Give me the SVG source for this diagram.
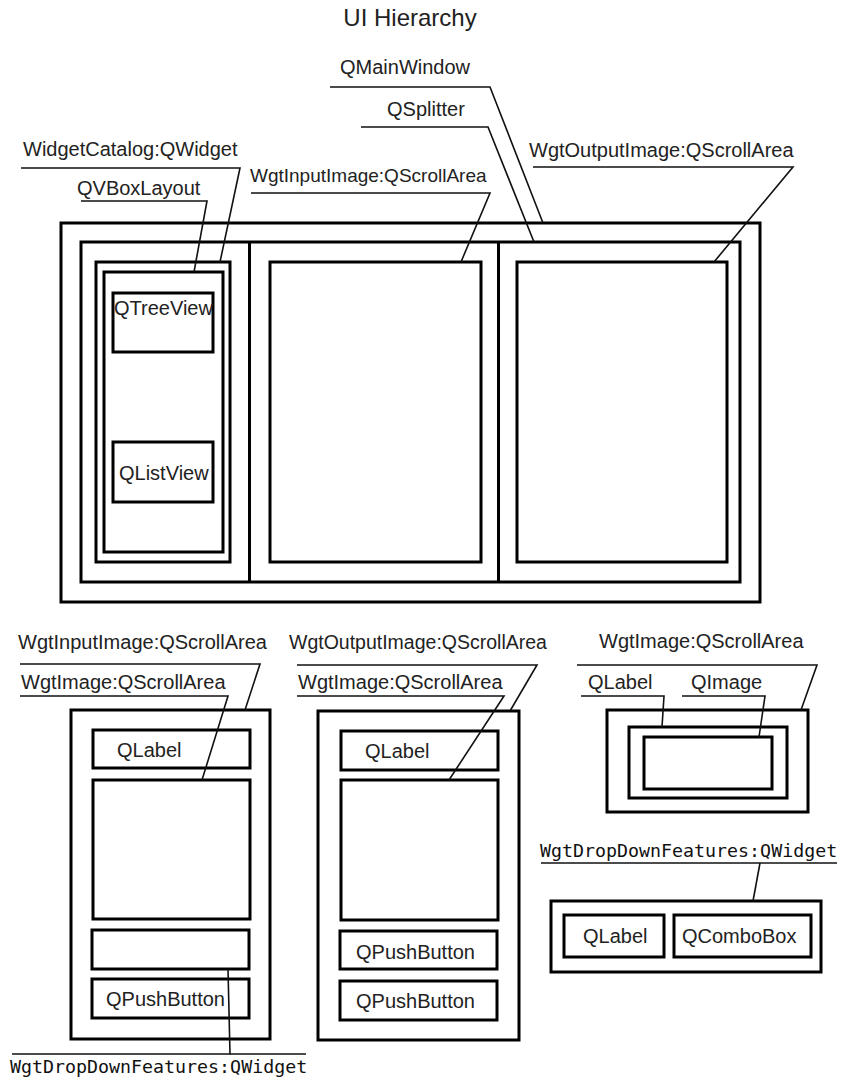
<svg xmlns="http://www.w3.org/2000/svg" width="845" height="1084" viewBox="0 0 845 1084">
<style>
  .box { fill: none; stroke: #000; stroke-width: 3; }
  .t { font-family: "Liberation Sans", Arial, sans-serif; font-size: 20px; fill: #222; }
  .title { font-family: "Liberation Sans", Arial, sans-serif; font-size: 24px; fill: #222; }
  .mono { font-family: "DejaVu Sans Mono", "Liberation Mono", monospace; font-size: 18.3px; fill: #111; }
  .ln { fill: none; stroke: #111; stroke-width: 1.6; stroke-linejoin: miter; }
</style>
<rect width="845" height="1084" fill="#fff"/>
<text class="title" x="410" y="26" text-anchor="middle">UI Hierarchy</text>

<!-- Top: main window -->
<g id="QMainWindow">
  <rect class="box" x="61" y="223" width="699" height="379"/>
  <text class="t" x="340" y="74">QMainWindow</text>
</g>
<g id="QSplitter">
  <rect class="box" x="81" y="242" width="659" height="340"/>
  <line class="box" x1="249.5" y1="242" x2="249.5" y2="582"/>
  <line class="box" x1="498.5" y1="242" x2="498.5" y2="582"/>
  <text class="t" x="387" y="116">QSplitter</text>
</g>
<g id="WidgetCatalog">
  <rect class="box" x="96" y="262" width="134" height="300"/>
  <text class="t" x="23" y="156">WidgetCatalog:QWidget</text>
</g>
<g id="QVBoxLayout">
  <rect class="box" x="104" y="272" width="119" height="280"/>
  <text class="t" x="77" y="195">QVBoxLayout</text>
</g>
<g id="QTreeView">
  <rect class="box" x="113" y="293" width="100" height="59"/>
  <text class="t" x="114" y="315">QTreeView</text>
</g>
<g id="QListView">
  <rect class="box" x="113" y="442" width="100" height="60"/>
  <text class="t" x="119" y="480">QListView</text>
</g>
<g id="WgtInputImageTop">
  <rect class="box" x="270" y="262" width="211" height="300"/>
  <text class="t" x="250" y="182" style="font-size:19px">WgtInputImage:QScrollArea</text>
</g>
<g id="WgtOutputImageTop">
  <rect class="box" x="517" y="262" width="210" height="300"/>
  <text class="t" x="529" y="157">WgtOutputImage:QScrollArea</text>
</g>

<!-- Lower left: WgtInputImage -->
<g id="WgtInputImage">
  <rect class="box" x="71" y="710" width="199" height="329"/>
  <text class="t" x="18" y="649">WgtInputImage:QScrollArea</text>
</g>
<g id="InLabel">
  <rect class="box" x="93" y="730" width="157" height="38"/>
  <text class="t" x="117" y="757">QLabel</text>
</g>
<g id="InImage">
  <rect class="box" x="93" y="780" width="157" height="139"/>
  <text class="t" x="21" y="689">WgtImage:QScrollArea</text>
</g>
<g id="InDropDown">
  <rect class="box" x="92" y="930" width="157" height="39"/>
  <text class="mono" x="10" y="1073">WgtDropDownFeatures:QWidget</text>
</g>
<g id="InPushButton">
  <rect class="box" x="92" y="979" width="157" height="39"/>
  <text class="t" x="106" y="1006">QPushButton</text>
</g>

<!-- Lower middle: WgtOutputImage -->
<g id="WgtOutputImage">
  <rect class="box" x="318" y="711" width="201" height="329"/>
  <text class="t" x="289" y="649" style="font-size:19.5px">WgtOutputImage:QScrollArea</text>
</g>
<g id="OutLabel">
  <rect class="box" x="341" y="731" width="157" height="39"/>
  <text class="t" x="365" y="758">QLabel</text>
</g>
<g id="OutImage">
  <rect class="box" x="341" y="780" width="157" height="140"/>
  <text class="t" x="298" y="689">WgtImage:QScrollArea</text>
</g>
<g id="OutPushButton1">
  <rect class="box" x="340" y="931" width="157" height="38"/>
  <text class="t" x="356" y="959">QPushButton</text>
</g>
<g id="OutPushButton2">
  <rect class="box" x="340" y="981" width="157" height="39"/>
  <text class="t" x="356" y="1008">QPushButton</text>
</g>

<!-- Right: WgtImage -->
<g id="WgtImage">
  <rect class="box" x="607" y="710" width="201" height="102"/>
  <text class="t" x="599" y="648">WgtImage:QScrollArea</text>
</g>
<g id="ImgLabel">
  <rect class="box" x="629" y="727" width="158" height="71"/>
  <text class="t" x="588" y="689">QLabel</text>
</g>
<g id="ImgImage">
  <rect class="box" x="644" y="737" width="128" height="52"/>
  <text class="t" x="691" y="689">QImage</text>
</g>

<!-- Right: WgtDropDownFeatures -->
<g id="WgtDropDownFeatures">
  <rect class="box" x="551" y="901" width="270" height="71"/>
  <text class="mono" x="540" y="857">WgtDropDownFeatures:QWidget</text>
</g>
<g id="DDLabel">
  <rect class="box" x="564" y="915" width="100" height="42"/>
  <text class="t" x="583" y="943">QLabel</text>
</g>
<g id="DDCombo">
  <rect class="box" x="674" y="915" width="137" height="42"/>
  <text class="t" x="682" y="943">QComboBox</text>
</g>

<g id="connectors">
  <polyline class="ln" points="330,87 490,87 543,223"/>
  <polyline class="ln" points="361,127 488,127 534,242"/>
  <polyline class="ln" points="21,168 240,168 220,262"/>
  <polyline class="ln" points="81,201 207,201 194,272"/>
  <polyline class="ln" points="251,193 490,193 461,262"/>
  <polyline class="ln" points="533,167 793,167 714,262"/>

  <polyline class="ln" points="20,664 260,664 245,710"/>
  <polyline class="ln" points="20,696 228,696 202,780"/>
  <polyline class="ln" points="12,1054 230,1054 228,969"/>
  <line class="ln" x1="230" y1="1054" x2="306" y2="1054"/>

  <polyline class="ln" points="297,665 537,665 510,711"/>
  <polyline class="ln" points="297,696 504,696 449,780"/>

  <polyline class="ln" points="577,665 817,665 801,710"/>
  <polyline class="ln" points="581,696 664,696 662,727"/>
  <polyline class="ln" points="682,696 765,696 759,737"/>

  <line class="ln" x1="541" y1="863" x2="837" y2="863"/>
  <line class="ln" x1="760" y1="863" x2="753" y2="901"/>
</g>
</svg>
